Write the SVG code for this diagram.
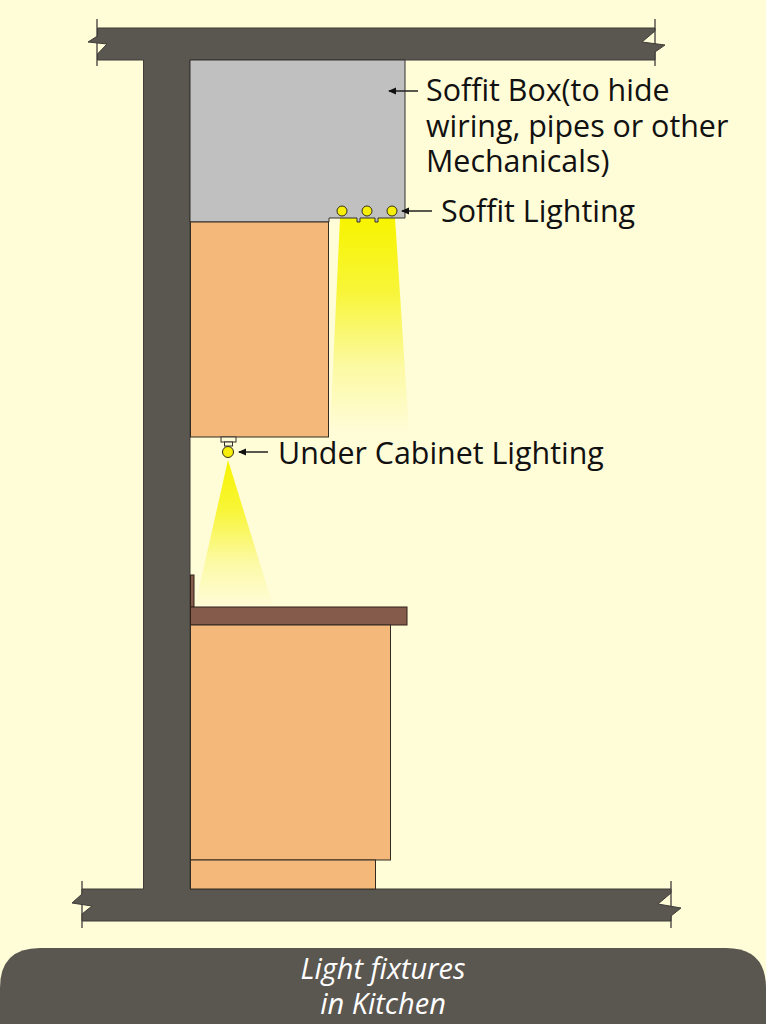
<svg xmlns="http://www.w3.org/2000/svg" width="766" height="1024" viewBox="0 0 766 1024">
  <style>
    .lbl { font-family: "Open Sans", "Noto Sans", sans-serif; font-size: 30.400px; fill: #111; }
    .cap { font-family: "Open Sans", "Noto Sans", sans-serif; font-size: 29px; font-style: italic; fill: #fff; text-anchor: middle; }
    .concrete { fill: #5a5650; stroke: #3f3c38; stroke-width: 1; }
    .cab { fill: #f4b97a; stroke: #332b22; stroke-width: 1; }
    .top { fill: #855c4c; stroke: #2e2119; stroke-width: 1; }
    .lamp { fill: #f7ee0a; stroke: #33301a; stroke-width: 1; }
    .tick { stroke: #5a5650; stroke-width: 1.5; fill: none; }
    .lead { stroke: #222; stroke-width: 1.5; fill: none; marker-end: url(#arrow); }
  </style>
  <defs>
    <marker id="arrow" viewBox="0 0 8 8" refX="7" refY="4" markerWidth="8" markerHeight="8" markerUnits="userSpaceOnUse" orient="auto">
      <path d="M0 0.500L8 4L0 7.500Z" fill="#111"/>
    </marker>
    <linearGradient id="beamA" x1="0" y1="218" x2="0" y2="432" gradientUnits="userSpaceOnUse">
      <stop offset="0" stop-color="#f7f400"/>
      <stop offset="0.35" stop-color="#f8f53a"/>
      <stop offset="0.7" stop-color="#fcfaa4"/>
      <stop offset="1" stop-color="#fffcd8"/>
    </linearGradient>
    <linearGradient id="beamB" x1="0" y1="460" x2="0" y2="606" gradientUnits="userSpaceOnUse">
      <stop offset="0" stop-color="#f7f400"/>
      <stop offset="0.35" stop-color="#f8f53a"/>
      <stop offset="0.7" stop-color="#fcfaa4"/>
      <stop offset="1" stop-color="#fffcd8"/>
    </linearGradient>
  </defs>

  <rect id="background" width="766" height="1024" fill="#fffcd8"/>

  <g id="soffit-beam"><path d="M340 218H395L409 432H330Z" fill="url(#beamA)"/></g>
  <g id="under-cabinet-beam"><path d="M228 460L273 606H195Z" fill="url(#beamB)"/></g>

  <g id="structure">
    <path class="tick" d="M97 19V66M655 19V66M82 881V928M671 881V928"/>
    <path class="concrete" d="M97.500 28H655V31L642 42L665 45L655 52V60H190V889H671V893L658 904L681 908L671 916V921H82V914L92 906L72 903L82 894V889H143.500V60H97.500V54L107 44L88 42L97.500 36Z"/>
  </g>

  <g id="soffit-box">
    <path d="M190 60H405V218H378V222H375V218H360V222H357V218H329V222H190Z" fill="#c0c0c0" stroke="#33302c" stroke-width="1"/>
  </g>
  <g id="upper-cabinet"><rect class="cab" x="190.500" y="222" width="138" height="215"/></g>
  <g id="soffit-lights">
    <circle class="lamp" cx="342" cy="211" r="5"/>
    <circle class="lamp" cx="367" cy="211" r="5"/>
    <circle class="lamp" cx="392" cy="211" r="5"/>
  </g>
  <g id="under-cabinet-light">
    <rect x="221" y="437" width="15" height="5" fill="#fffcd8" stroke="#33302c"/>
    <rect x="224.500" y="442" width="8" height="4" fill="#fffcd8" stroke="#33302c"/>
    <circle class="lamp" cx="228" cy="452" r="5.500"/>
  </g>
  <g id="backsplash"><rect class="top" x="190.500" y="575" width="3.500" height="32"/></g>
  <g id="countertop"><rect class="top" x="190.500" y="607" width="216.500" height="18"/></g>
  <g id="lower-cabinet"><rect class="cab" x="190.500" y="625" width="200" height="235"/></g>
  <g id="toe-kick"><rect class="cab" x="190.500" y="860" width="185" height="29"/></g>

  <g id="connectors">
    <path class="lead" d="M418 91H389"/>
    <path class="lead" d="M432 211H402"/>
    <path class="lead" d="M268 452H239"/>
  </g>

  <g id="labels">
    <text class="lbl" x="426" y="101">Soffit Box(to hide</text>
    <text class="lbl" x="426" y="137">wiring, pipes or other</text>
    <text class="lbl" x="426" y="172">Mechanicals)</text>
    <text class="lbl" x="441" y="222">Soffit Lighting</text>
    <text class="lbl" x="278" y="464">Under Cabinet Lighting</text>
  </g>

  <g id="caption">
    <path d="M0 1024V988Q0 948 40 948H726Q766 948 766 988V1024Z" fill="#5a5650"/>
    <text class="cap" x="383" y="979">Light fixtures</text>
    <text class="cap" x="383" y="1014">in Kitchen</text>
  </g>
</svg>
